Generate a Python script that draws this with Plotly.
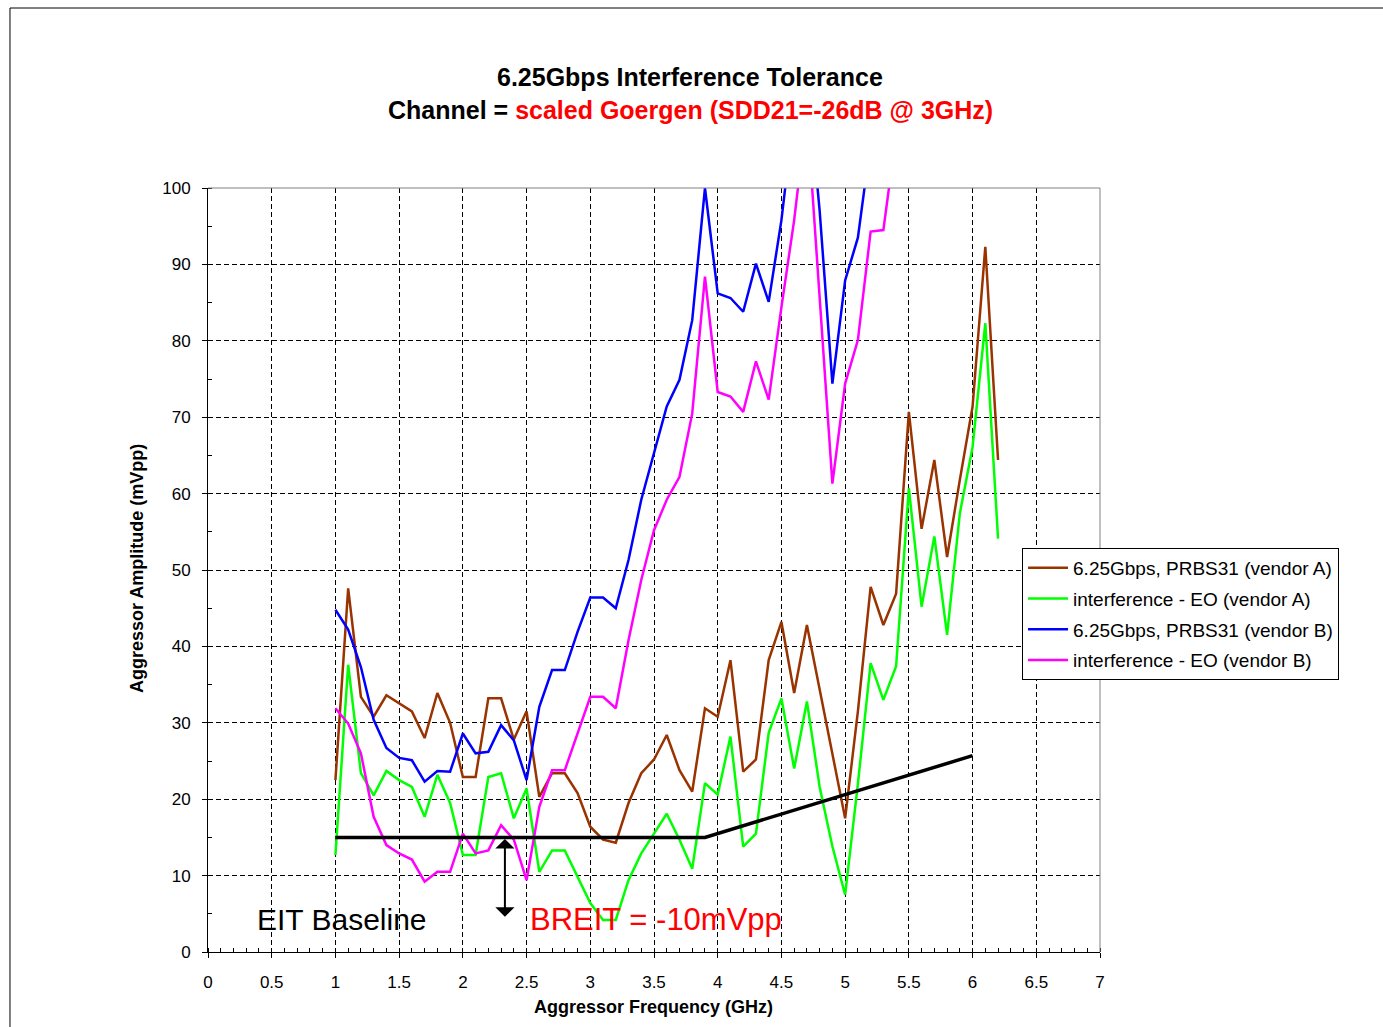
import plotly.graph_objects as go

# Aggressor frequency sweep (GHz)
freq_a = [1.0, 1.1, 1.2, 1.3, 1.4, 1.5, 1.6, 1.7, 1.8, 1.9,
          2.0, 2.1, 2.2, 2.3, 2.4, 2.5, 2.6, 2.7, 2.8, 2.9,
          3.0, 3.1, 3.2, 3.3, 3.4, 3.5, 3.6, 3.7, 3.8, 3.9,
          4.0, 4.1, 4.2, 4.3, 4.4, 4.5, 4.6, 4.7, 4.8, 4.9,
          5.0, 5.1, 5.2, 5.3, 5.4, 5.5, 5.6, 5.7, 5.8, 5.9,
          6.0, 6.1, 6.2]
freq_b_prbs = freq_a[:43]   # 1.0 .. 5.2
freq_b_eo = freq_a[:45]     # 1.0 .. 5.4

# Aggressor amplitude at failure (mVpp)
prbs31_vendor_a = [22.5, 47.6, 33.4, 30.8, 33.6, 32.5, 31.5, 28.0, 33.9, 30.0,
                   22.9, 22.9, 33.2, 33.2, 27.8, 31.5, 20.3, 23.4, 23.4, 20.8,
                   16.4, 14.7, 14.3, 19.5, 23.4, 25.2, 28.4, 23.8, 21.0, 31.9,
                   30.8, 38.2, 23.6, 25.2, 38.2, 43.2, 33.9, 42.8, 34.3, 25.6,
                   17.5, 31.5, 47.8, 42.8, 46.9, 70.7, 55.4, 64.4, 51.7, 61.8,
                   71.4, 92.3, 64.4]
eo_vendor_a = [12.7, 37.6, 23.4, 20.5, 23.7, 22.5, 21.6, 17.7, 23.2, 19.5,
               12.7, 12.7, 22.9, 23.4, 17.5, 21.4, 10.5, 13.3, 13.3, 9.8,
               6.4, 4.2, 4.2, 9.4, 12.9, 15.5, 18.1, 14.7, 10.9, 22.1,
               20.6, 28.2, 13.8, 15.5, 28.7, 33.2, 24.0, 32.8, 21.6, 13.8,
               7.5, 22.0, 37.8, 33.0, 37.4, 60.7, 45.2, 54.4, 41.5, 57.4,
               66.1, 82.3, 54.1]
prbs31_vendor_b = [44.8, 42.2, 37.3, 30.4, 26.7, 25.4, 25.1, 22.3, 23.7, 23.6,
                   28.6, 26.0, 26.2, 29.7, 27.7, 22.5, 32.1, 36.9, 36.9, 41.9,
                   46.4, 46.4, 45.0, 51.3, 59.2, 65.3, 71.4, 74.9, 82.7, 100.0,
                   86.2, 85.6, 83.8, 90.1, 85.1, 95.8, 110.0, 115.0, 97.0, 74.4,
                   87.9, 93.5, 106.0]
eo_vendor_b = [31.9, 29.9, 26.0, 17.7, 14.0, 12.9, 12.1, 9.2, 10.5, 10.5,
               15.5, 12.9, 13.3, 16.6, 14.7, 9.4, 19.0, 23.8, 23.8, 28.6,
               33.4, 33.4, 31.9, 40.8, 48.7, 55.2, 59.2, 62.2, 70.5, 88.4,
               73.3, 72.7, 70.7, 77.3, 72.3, 84.4, 95.8, 110.0, 85.5, 61.3,
               74.4, 80.1, 94.3, 94.5, 107.0]

# EIT baseline mask
baseline_freq = [1.0, 3.9, 6.0]
baseline_amp = [15.0, 15.0, 25.7]

# BREIT offset marker
breit_freq = 2.33
breit_top = 15.0
breit_bottom = 4.6

series_names = ["6.25Gbps, PRBS31 (vendor A)", "interference - EO (vendor A)",
                "6.25Gbps, PRBS31 (vendor B)", "interference - EO (vendor B)"]
series_colors = ["#993300", "#00FF00", "#0000FF", "#FF00FF"]

FONT = "Liberation Sans, Arial, sans-serif"

fig = go.Figure()
series = [(freq_a, prbs31_vendor_a), (freq_a, eo_vendor_a),
          (freq_b_prbs, prbs31_vendor_b), (freq_b_eo, eo_vendor_b)]
for i, ((xs, ys), name, col) in enumerate(zip(series, series_names, series_colors)):
    fig.add_trace(go.Scatter(x=xs, y=ys, mode="lines", name=name,
                             legendgroup=f"g{i}",
                             line=dict(color=col, width=2.5)))

fig.add_trace(go.Scatter(x=baseline_freq, y=baseline_amp, mode="lines",
                         line=dict(color="black", width=3.5), showlegend=False))

grid_dash = "5px,3px"
common_axis = dict(showgrid=True, gridcolor="black", gridwidth=1, griddash=grid_dash,
                   showline=True, linecolor="black", linewidth=1,
                   ticks="outside", ticklen=5, tickcolor="black",
                   zeroline=False, tickfont=dict(family=FONT, size=17, color="black"))

fig.update_xaxes(range=[0, 7], tick0=0, dtick=0.5, ticklabelstandoff=10,
                 minor=dict(dtick=0.1, ticks="inside", ticklen=4, tickcolor="black",
                            showgrid=False),
                 **common_axis)
fig.update_yaxes(range=[0, 100], tick0=0, dtick=10, ticklabelstandoff=8,
                 minor=dict(dtick=5, ticks="inside", ticklen=4, tickcolor="black",
                            showgrid=False),
                 **common_axis)


def label(text, x, y, size, color="black", ref="paper", **kw):
    return dict(text=text, x=x, y=y, xref="x" if ref == "data" else "paper",
                yref="y" if ref == "data" else "paper", showarrow=False,
                xanchor="center", yanchor="middle",
                font=dict(family=FONT, size=size, color=color), **kw)


annotations = [
    label("<b>6.25Gbps Interference Tolerance</b>", 0.5404, 1.1453, 25),
    label("<b>Channel = <span style='color:#FF0000'>scaled Goergen (SDD21=-26dB @ 3GHz)</span></b>",
          0.5404, 1.1021, 25),
    label("<b>Aggressor Frequency (GHz)</b>", 0.4989, -0.072, 18),
    label("<b>Aggressor Amplitude (mVpp)</b>", -0.0796, 0.5026, 18, textangle=-90),
    label("EIT Baseline", 1.052, 4.3, 30, ref="data"),
    label("BREIT = -10mVpp", 3.512, 4.3, 31, color="#FF0000", ref="data"),
    dict(text="", x=breit_freq, y=breit_bottom, ax=breit_freq, ay=breit_top,
         xref="x", yref="y", axref="x", ayref="y", showarrow=True,
         arrowhead=1, startarrowhead=1, arrowside="end+start",
         arrowwidth=2, arrowsize=1.6, startarrowsize=1.6, arrowcolor="black",
         standoff=0, startstandoff=0),
]

shapes = [
    # outer chart frame
    dict(type="rect", xref="paper", yref="paper", x0=-0.222, x1=1.4, y0=-0.3, y1=1.2356,
         line=dict(color="black", width=1), layer="below"),
    # plot area border (top and right)
    dict(type="line", xref="paper", yref="paper", x0=0, x1=1, y0=1, y1=1,
         line=dict(color="#808080", width=1), layer="above"),
    dict(type="line", xref="paper", yref="paper", x0=1, x1=1, y0=0, y1=1,
         line=dict(color="#808080", width=1), layer="above"),
]

fig.update_layout(
    width=1383, height=1027, autosize=False,
    margin=dict(l=208, r=283, t=188, b=75),
    paper_bgcolor="white", plot_bgcolor="white",
    font=dict(family=FONT, color="black"),
    showlegend=True,
    legend=dict(x=0.9126, y=0.5288, xanchor="left", yanchor="top",
                bordercolor="black", borderwidth=1, bgcolor="white",
                font=dict(family=FONT, size=19, color="black"),
                itemwidth=40, traceorder="grouped", tracegroupgap=3),
    annotations=annotations, shapes=shapes,
)

fig.write_html("out.html")
